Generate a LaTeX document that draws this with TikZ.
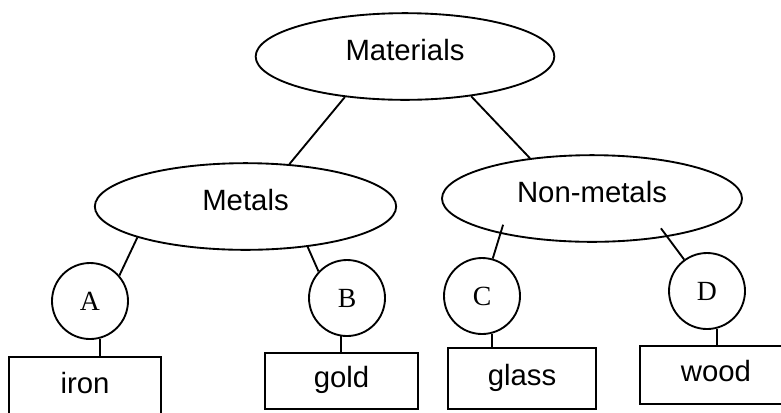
\documentclass[tikz,border=0pt]{standalone}
\usepackage{fontspec}
\setmainfont{Liberation Sans}
\newfontfamily\letterfont{Liberation Serif}
\usetikzlibrary{shapes.geometric,calc}
\begin{document}
\begin{tikzpicture}[x=0.75pt,y=-0.75pt,line width=1.4pt,
  oval/.style={draw, ellipse, inner sep=0pt, minimum height=65pt,
    font=\fontsize{22}{26}\selectfont, text height=15.8pt, text depth=9.9pt},
  letter/.style={draw, circle, inner sep=0pt, minimum size=57pt,
    font=\letterfont\fontsize{20.8}{24}\selectfont},
  item/.style={draw, rectangle, inner sep=0pt,
    font=\fontsize{22}{26}\selectfont, text height=15.8pt, text depth=5.5pt},
  link/.style={line width=1.4pt}]
\clip (0,0) rectangle (781,412);

% top level and the two groups
\node[oval, minimum width=224pt] (mat) at (405,56.5) {Materials};
\node[oval, minimum width=226pt] (met) at (245.5,206.5) {Metals};
\node[oval, minimum width=225pt] (non) at (592,198.5) {Non-metals};

% unknown members
\node[letter] (A) at (90,301) {A};
\node[letter] (B) at (347,298) {B};
\node[letter] (C) at (482,296) {C};
\node[letter] (D) at (707,291) {D};

% examples
\node[item, minimum width=114pt, minimum height=44pt] (iron) at (85,386.5) {iron};
\node[item, minimum width=115pt, minimum height=42pt] (gold) at (341.5,381) {gold};
\node[item, minimum width=111pt, minimum height=46pt] (glass) at (522,378.5) {glass};
\node[item, minimum width=114pt, minimum height=43.5pt] (wood) at (716,375) {wood};

% branches
\draw[link] (mat.214) -- (met.44);
\draw[link] (mat.-31) -- (non.147);
\draw[link] (met.196) -- (A.41);
\draw[link] (met.-33) -- (B.137);
\draw[link] ($(non.201)!-7pt!(C.74)$) -- (C.74);
\draw[link] ($(non.-27)!-8pt!(D.126)$) -- (D.126);

% stems to the example boxes
\draw[link] (A.-75) -- (A.-75 |- iron.north);
\draw[link] (B.-99) -- (B.-99 |- gold.north);
\draw[link] (C.-75) -- (C.-75 |- glass.north);
\draw[link] (D.-75) -- (D.-75 |- wood.north);
\end{tikzpicture}
\end{document}
